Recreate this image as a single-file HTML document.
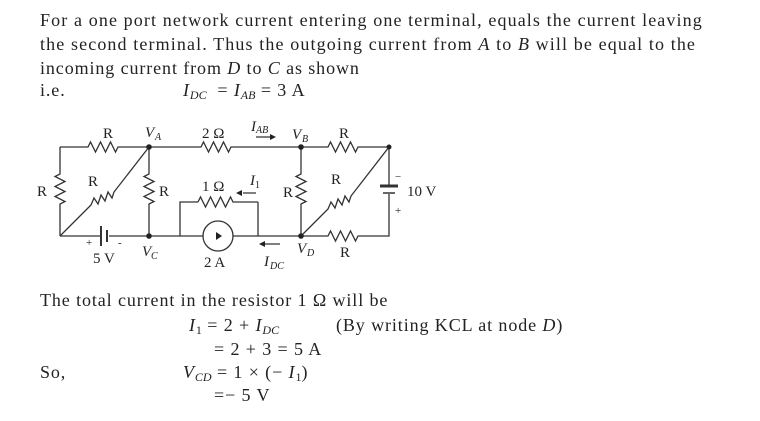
<!DOCTYPE html>
<html><head><meta charset="utf-8"><style>
body{margin:0;width:760px;height:421px;background:#fff;overflow:hidden;position:relative;font-family:"Liberation Serif",serif;color:#222}
.t{position:absolute;font-size:18px;letter-spacing:0.9px;white-space:nowrap;line-height:20px}
i{font-style:italic}
sub{font-size:12px;vertical-align:-3px;font-style:italic;letter-spacing:0}
svg text{font-family:"Liberation Serif",serif;fill:#222}
</style></head><body>
<div class="t" style="left:40px;top:10px;letter-spacing:1.12px">For a one port network current entering one terminal, equals the current leaving</div>
<div class="t" style="left:40px;top:34px;letter-spacing:1.12px">the second terminal. Thus the outgoing current from <i>A</i> to <i>B</i> will be equal to the</div>
<div class="t" style="left:40px;top:58px">incoming current from <i>D</i> to <i>C</i> as shown</div>
<div class="t" style="left:40px;top:80px">i.e.</div>
<div class="t" style="left:183px;top:80px"><i>I</i><sub>DC</sub> &nbsp;= <i>I</i><sub>AB</sub> = 3 A</div>

<svg style="position:absolute;left:0;top:0" width="760" height="421">
<g stroke="#333" stroke-width="1.3" fill="none">
<path d="M60,147 H88 l2.5,-5 l5,10 l5,-10 l5,10 l5,-10 l5,10 l2.5,-5 H201 l2.5,-5 l5,10 l5,-10 l5,10 l5,-10 l5,10 l2.5,-5 H328 l2.5,-5 l5,10 l5,-10 l5,10 l5,-10 l5,10 l2.5,-5 H389"/>
<path d="M60,147 V174 l-5,2.5 l10,5 l-10,5 l10,5 l-10,5 l10,5 l-5,2.5 V236"/>
<path d="M60,236 L91,205 l3,-7 l4,6 l3,-9 l4,6 l3,-9 l4,6 l2,-6 L149,147"/>
<path d="M149,147 V174 l-5,2.5 l10,5 l-10,5 l10,5 l-10,5 l10,5 l-5,2.5 V236"/>
<path d="M60,236 H101 M109,236 H149"/>
<path d="M101,226 V246 M107,230 V242" stroke-width="2"/>
<path d="M149,236 H203 M233,236 H301"/>
<circle cx="218" cy="236" r="15"/>
<path d="M180,236 V202 H198 M258,202 V236 M238,202 H258"/>
<path d="M198,202 l2.5,-5 l5,10 l5,-10 l5,10 l5,-10 l5,10 l5,-10 l2.5,5 H238"/>
<path d="M301,147 V174 l-5,2.5 l10,5 l-10,5 l10,5 l-10,5 l10,5 l-5,2.5 V236"/>
<path d="M301,236 L328,209 l3,-7 l4,6 l3,-9 l4,6 l3,-9 l4,6 l2,-6 L389,147"/>
<path d="M301,236 H328 l2.5,-5 l5,10 l5,-10 l5,10 l5,-10 l5,10 l2.5,-5 H389 V194 M389,186 V147"/>
<path d="M380,186 H398" stroke-width="3"/>
<path d="M383,193 H395" stroke-width="1.5"/>
<path d="M256,137 H270 M243,193 H256 M265,244 H280"/>
</g>
<g fill="#222">
<circle cx="149" cy="147" r="2.8"/><circle cx="301" cy="147" r="2.8"/><circle cx="389" cy="147" r="2.5"/>
<circle cx="149" cy="236" r="2.8"/><circle cx="301" cy="236" r="2.8"/>
<path d="M276,134 L270,137 L276,140 Z" transform="rotate(180 273 137)"/>
<path d="M236,193 l6,-3 v6 z"/>
<path d="M259,244 l6,-3 v6 z"/>
<path d="M222,236 l-6,-4 v8 z"/>
</g>
<g font-size="15">
<text x="103" y="138">R</text>
<text x="145" y="137" font-style="italic">V</text><text x="155" y="140" font-size="10" font-style="italic">A</text>
<text x="202" y="138">2 Ω</text>
<text x="251" y="131" font-style="italic">I</text><text x="256" y="133" font-size="10" font-style="italic">AB</text>
<text x="292" y="139" font-style="italic">V</text><text x="302" y="142" font-size="10" font-style="italic">B</text>
<text x="339" y="138">R</text>
<text x="37" y="196">R</text>
<text x="88" y="186">R</text>
<text x="159" y="196">R</text>
<text x="202" y="191">1 Ω</text>
<text x="250" y="185" font-style="italic">I</text><text x="255" y="188" font-size="10">1</text>
<text x="283" y="197">R</text>
<text x="331" y="184">R</text>
<text x="395" y="180" font-size="11">−</text>
<text x="407" y="196">10 V</text>
<text x="395" y="214" font-size="11">+</text>
<text x="86" y="246" font-size="11">+</text>
<text x="118" y="246" font-size="11">-</text>
<text x="93" y="263">5 V</text>
<text x="142" y="256" font-style="italic">V</text><text x="151" y="259" font-size="10" font-style="italic">C</text>
<text x="204" y="267">2 A</text>
<text x="264" y="266" font-style="italic">I</text><text x="270" y="269" font-size="10" font-style="italic">DC</text>
<text x="297" y="253" font-style="italic">V</text><text x="307" y="256" font-size="10" font-style="italic">D</text>
<text x="340" y="257">R</text>
</g>
</svg>

<div class="t" style="left:40px;top:290px">The total current in the resistor 1 Ω will be</div>
<div class="t" style="left:189px;top:315px"><i>I</i><sub style="font-style:normal">1</sub> = 2 + <i>I</i><sub>DC</sub></div>
<div class="t" style="left:336px;top:315px">(By writing KCL at node <i>D</i>)</div>
<div class="t" style="left:214px;top:339px">= 2 + 3 = 5 A</div>
<div class="t" style="left:40px;top:362px">So,</div>
<div class="t" style="left:183px;top:362px"><i>V</i><sub>CD</sub> = 1 × (− <i>I</i><sub style="font-style:normal">1</sub>)</div>
<div class="t" style="left:214px;top:385px">=− 5 V</div>
</body></html>
